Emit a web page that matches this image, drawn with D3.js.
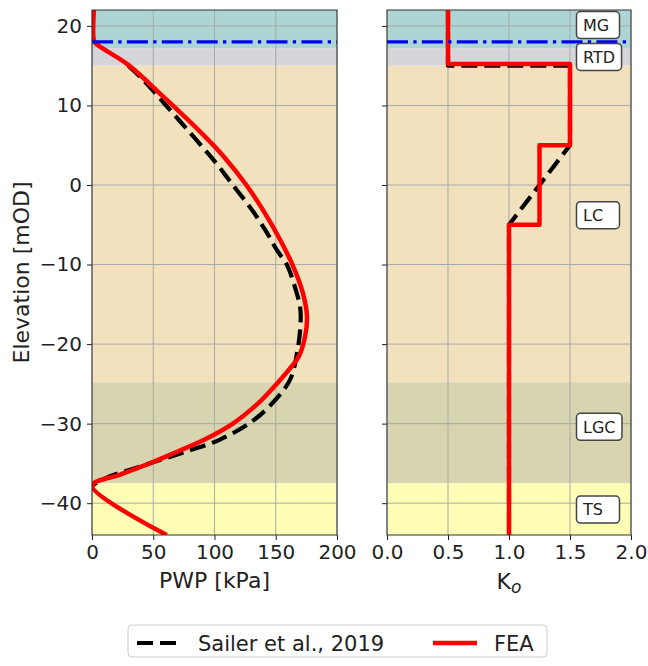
<!DOCTYPE html>
<html>
<head>
<meta charset="utf-8">
<script src="https://cdn.jsdelivr.net/npm/d3@7"></script>
<style>
body { margin: 0; background: #fff; }
text { font-family: "DejaVu Sans", sans-serif; fill: #222; }
</style>
</head>
<body>
<svg id="chart" width="648" height="666"></svg>
<script>
// soil layers
var layerNames = ['MG', 'RTD', 'LC', 'LGC', 'TS']
var layerTop = [22, 17.2, 15, -24.8, -37.5]
var layerBottom = [17.2, 15, -24.8, -37.5, -44]
var layerLabelElev = [20.1, 16.1, -3.8, -30.4, -40.8]
var layerColors = ['#acd5d3', '#d5d5da', '#f2e1bd', '#d7d4b0', '#fdfdb5']

var waterTable = 18

// pore water pressure profiles [kPa, mOD]
var sailerPwp = [29.6, 41.9, 61, 82.7, 100, 115, 130, 142, 151, 159, 165, 170, 170, 167.5, 161.6, 145, 129, 104.5, 77, 53, 31, 14.7, 0]
var sailerPwpElev = [15, 13.2, 9.9, 6.1, 3, 0, -3, -5.8, -8.2, -10, -12.5, -15.5, -18, -21, -24.5, -27.8, -29.9, -32, -33.5, -34.7, -35.8, -36.6, -37.8]
var feaPwp = [1.5, 1.5, 3, 29.6, 58.2, 88.2, 108, 126, 141, 154, 165, 172, 175.5, 174, 169, 162, 152, 136, 115, 92, 70, 47, 23, 0, 61]
var feaPwpElev = [22, 18.2, 17.8, 15.1, 11.1, 6.7, 3.5, 0, -3.5, -7, -10.5, -13.5, -16.5, -19, -21.5, -23, -24.8, -27.4, -30, -32, -33.5, -35, -36.4, -37.8, -44]

// earth pressure coefficient profiles
var sailerKo = [0.5, 0.5, 1.5, 1.5, 1.0, 1.0]
var sailerKoElev = [22, 15, 15, 5, -5, -44]
var feaKo = [0.5, 0.5, 1.5, 1.5, 1.25, 1.25, 1.0, 1.0]
var feaKoElev = [22, 15.2, 15.2, 5, 5, -5, -5, -44]

var elevTicks = [-40, -30, -20, -10, 0, 10, 20]
var pwpTicks = [0, 50, 100, 150, 200]
var koTicks = [0, 0.5, 1, 1.5, 2]

var legendLabels = ['Sailer et al., 2019', 'FEA']

var svg = d3.select('#chart')
svg.append('rect').attr('width', 648).attr('height', 666).attr('fill', '#fff')

var y = d3.scaleLinear().domain([-44, 22]).range([535, 10])
var xPwp = d3.scaleLinear().domain([0, 200]).range([92, 337])
var xKo = d3.scaleLinear().domain([0, 2]).range([387, 631])

var sailerStyle = { stroke: '#000', width: 4.2, dash: '16,7' }
var feaStyle = { stroke: '#f00', width: 4.5, dash: null }

function drawPanel (id, x, ticks, fmt, showY) {
  var g = svg.append('g')
  var x0 = x.range()[0]
  var x1 = x.range()[1]

  g.append('clipPath').attr('id', 'clip-' + id)
    .append('rect')
      .attr('x', x0).attr('y', y(22))
      .attr('width', x1 - x0).attr('height', y(-44) - y(22))

  g.selectAll('rect.layer')
    .data(layerNames)
    .enter().append('rect')
      .attr('class', 'layer')
      .attr('x', x0)
      .attr('width', x1 - x0)
      .attr('y', function (d, i) { return y(layerTop[i]) })
      .attr('height', function (d, i) { return y(layerBottom[i]) - y(layerTop[i]) })
      .attr('fill', function (d, i) { return layerColors[i] })

  // grid
  g.selectAll('line.gx').data(ticks)
    .enter().append('line')
      .attr('x1', function (d) { return x(d) }).attr('x2', function (d) { return x(d) })
      .attr('y1', y(22)).attr('y2', y(-44))
      .attr('stroke', '#a9a9a9').attr('stroke-width', 1)
  g.selectAll('line.gy').data(elevTicks)
    .enter().append('line')
      .attr('y1', function (d) { return y(d) }).attr('y2', function (d) { return y(d) })
      .attr('x1', x0).attr('x2', x1)
      .attr('stroke', '#a9a9a9').attr('stroke-width', 1)

  var xAxis = g.append('g')
    .attr('transform', 'translate(0,' + y(-44) + ')')
    .call(d3.axisBottom(x).tickValues(ticks).tickSize(5).tickPadding(5).tickFormat(fmt))
  var yAxis = g.append('g')
    .attr('transform', 'translate(' + x0 + ',0)')
    .call(d3.axisLeft(y).tickValues(elevTicks).tickSize(5).tickPadding(5)
      .tickFormat(showY ? d3.format('d') : function () { return '' }))

  ;[xAxis, yAxis].forEach(function (a) {
    a.select('.domain').remove()
    a.selectAll('line').attr('stroke', '#222').attr('stroke-width', 1)
    a.selectAll('text').style('font-size', '20px').attr('fill', '#222')
  })

  var plot = g.append('g').attr('clip-path', 'url(#clip-' + id + ')')

  g.append('rect')
    .attr('x', x0).attr('y', y(22))
    .attr('width', x1 - x0).attr('height', y(-44) - y(22))
    .attr('fill', 'none').attr('stroke', '#333').attr('stroke-width', 1)

  return plot
}

function drawProfile (plot, x, xs, ys, style, curve) {
  var line = d3.line()
    .x(function (d) { return x(d[0]) })
    .y(function (d) { return y(d[1]) })
    .curve(curve)
  plot.append('path')
    .datum(d3.zip(xs, ys))
    .attr('d', line)
    .attr('fill', 'none')
    .attr('stroke', style.stroke)
    .attr('stroke-width', style.width)
    .attr('stroke-dasharray', style.dash)
    .attr('stroke-linejoin', 'round')
}

function drawWaterTable (plot, x) {
  plot.append('line')
    .attr('x1', x.range()[0]).attr('x2', x.range()[1])
    .attr('y1', y(waterTable)).attr('y2', y(waterTable))
    .attr('stroke', '#0000f0')
    .attr('stroke-width', 3.3)
    .attr('stroke-dasharray', '21,5.3,3.3,5.3')
}

var smooth = d3.curveCatmullRom.alpha(0.5)

var left = drawPanel('pwp', xPwp, pwpTicks, d3.format('d'), true)
drawProfile(left, xPwp, sailerPwp, sailerPwpElev, sailerStyle, smooth)
drawProfile(left, xPwp, feaPwp, feaPwpElev, feaStyle, smooth)
drawWaterTable(left, xPwp)

var right = drawPanel('ko', xKo, koTicks, d3.format('.1f'), false)
drawProfile(right, xKo, sailerKo, sailerKoElev, sailerStyle, d3.curveLinear)
drawProfile(right, xKo, feaKo, feaKoElev, feaStyle, d3.curveLinear)
drawWaterTable(right, xKo)

// layer labels
var labels = svg.append('g').selectAll('g')
  .data(layerNames)
  .enter().append('g')
    .attr('transform', function (d, i) { return 'translate(583,' + y(layerLabelElev[i]) + ')' })

labels.append('rect')
labels.append('text')
  .attr('dy', '0.36em')
  .style('font-size', '16px')
  .text(function (d) { return d })

labels.each(function () {
  var grp = d3.select(this)
  var w = grp.select('text').node().getComputedTextLength()
  grp.select('rect')
    .attr('x', -6.5).attr('y', -13.5)
    .attr('width', Math.max(w + 13, 43)).attr('height', 27)
    .attr('rx', 4)
    .attr('fill', '#fff')
    .attr('stroke', '#444')
    .attr('stroke-width', 1.5)
})

// axis titles
svg.append('text')
  .attr('x', (xPwp.range()[0] + xPwp.range()[1]) / 2).attr('y', 588)
  .attr('text-anchor', 'middle')
  .style('font-size', '22px')
  .text('PWP [kPa]')

var koTitle = svg.append('text')
  .attr('x', (xKo.range()[0] + xKo.range()[1]) / 2).attr('y', 589)
  .attr('text-anchor', 'middle')
  .style('font-size', '22px')
koTitle.append('tspan').text('K')
koTitle.append('tspan').attr('dy', 4).style('font-size', '17px').style('font-style', 'italic').text('o')

svg.append('text')
  .attr('transform', 'translate(29,' + (y(22) + y(-44)) / 2 + ') rotate(-90)')
  .attr('text-anchor', 'middle')
  .style('font-size', '22px')
  .text('Elevation [mOD]')

// legend
var legend = svg.append('g')
legend.append('rect')
  .attr('x', 128).attr('y', 625).attr('width', 419).attr('height', 32)
  .attr('rx', 4)
  .attr('fill', '#fff').attr('stroke', '#ccc').attr('stroke-width', 1)

var legendStyles = [sailerStyle, feaStyle]
var legendX = [137, 433]
legendLabels.forEach(function (label, i) {
  var s = legendStyles[i]
  legend.append('line')
    .attr('x1', legendX[i]).attr('x2', legendX[i] + 44)
    .attr('y1', 643).attr('y2', 643)
    .attr('stroke', s.stroke)
    .attr('stroke-width', s.width)
    .attr('stroke-dasharray', s.dash)
  legend.append('text')
    .attr('x', legendX[i] + 61).attr('y', 651)
    .style('font-size', '21px')
    .text(label)
})
</script>
</body>
</html>
